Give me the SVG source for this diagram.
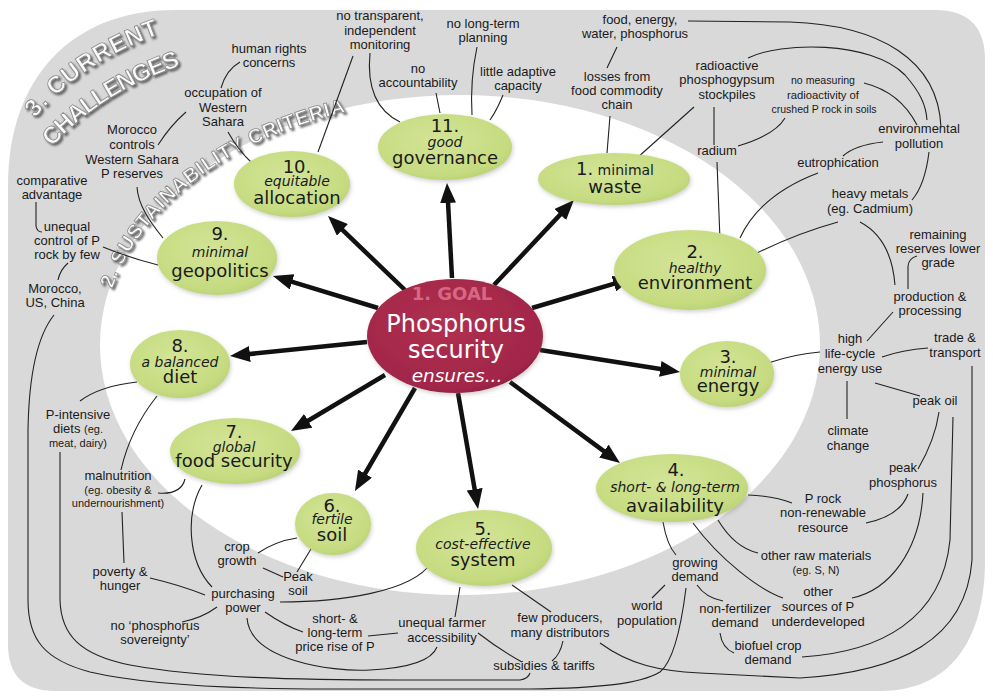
<svg xmlns="http://www.w3.org/2000/svg" width="993" height="697" viewBox="0 0 993 697">
<defs>
<style>
.lb{font-family:"Liberation Sans",Arial,sans-serif;font-size:13px;fill:#1a1a1a;text-anchor:middle}
.sm{font-size:11px}
.nd{fill:url(#gr)}
.nt{font-family:"DejaVu Sans",Verdana,sans-serif;fill:#1a1a1a;text-anchor:middle}
.num{font-size:18px}
.it{font-size:14px;font-style:italic}
.big{font-size:18px}
.c{fill:none;stroke:#222;stroke-width:1.1}
.ar{fill:none;stroke:#111;stroke-width:4.5;marker-end:url(#ah)}
.emb{font-family:"Liberation Sans",Arial,sans-serif;font-weight:bold;fill:#fbfbfb;stroke:#8a8a8a;stroke-width:0.8;filter:url(#sh)}
</style>
<radialGradient id="gr" cx="0.45" cy="0.4" r="0.65">
<stop offset="0" stop-color="#d3e497"/>
<stop offset="0.8" stop-color="#c6db80"/>
<stop offset="1" stop-color="#b8cf72"/>
</radialGradient>
<radialGradient id="rg" cx="0.45" cy="0.4" r="0.65">
<stop offset="0" stop-color="#b0304f"/>
<stop offset="0.85" stop-color="#a2264a"/>
<stop offset="1" stop-color="#8e1f40"/>
</radialGradient>
<filter id="sh" x="-10%" y="-10%" width="130%" height="130%">
<feDropShadow dx="2" dy="2" stdDeviation="1.2" flood-color="#444" flood-opacity="0.8"/>
</filter>
<filter id="nsh" x="-10%" y="-10%" width="130%" height="130%">
<feDropShadow dx="1" dy="2" stdDeviation="2" flood-color="#777" flood-opacity="0.35"/>
</filter>
<marker id="ah" markerWidth="20" markerHeight="16" refX="5" refY="8" orient="auto" markerUnits="userSpaceOnUse">
<path d="M0,0 L20,8 L0,16 z" fill="#111"/>
</marker>
<path id="p3a" d="M 35 118 Q 85 58 172 30"/>
<path id="p3b" d="M 52 147 Q 105 88 192 62"/>
<path id="p2" d="M 108 303 A 356 246 0 0 1 399 103"/>
</defs>

<g id="background">
<path d="M 8 185 C 8 80 70 10 175 10 L 935 10 Q 985 10 985 60 L 985 560 C 985 640 950 691 880 691 L 55 691 Q 8 691 8 644 Z" fill="#d9d9d9"/>
<ellipse cx="460" cy="345" rx="360" ry="250" fill="#ffffff"/>
<text class="emb" font-size="24"><textPath href="#p3a" textLength="152">3. CURRENT</textPath></text>
<text class="emb" font-size="24"><textPath href="#p3b" textLength="154">CHALLENGES</textPath></text>
<text class="emb" font-size="20"><textPath href="#p2" startOffset="15" textLength="305">2. SUSTAINABILITY CRITERIA</textPath></text>
</g>

<g id="connectors">
<path class="c" d="M 240 62 Q 226 70 221 88"/>
<path class="c" d="M 186 112 Q 170 126 158 145"/>
<path class="c" d="M 228 132 Q 238 150 252 163"/>
<path class="c" d="M 137 187 C 138 205 150 222 163 238"/>
<path class="c" d="M 36 202 L 36 226 Q 37 232 42 232"/>
<path class="c" d="M 103 247 Q 130 258 158 265"/>
<path class="c" d="M 68 263 Q 60 270 58 280"/>
<path class="c" d="M 54 315 C 38 335 29 370 28 430 L 28 600 C 28 640 45 660 90 672 C 150 686 250 689 330 689 L 530 689 C 600 688 640 684 660 672 C 675 660 682 620 686 588"/>
<path class="c" d="M 60 452 L 60 600 C 61 635 80 655 130 665 C 200 678 300 680 400 680 L 520 680 Q 528 679 530 673"/>
<path class="c" d="M 137 382 Q 100 386 80 401"/>
<path class="c" d="M 157 396 Q 130 430 121 470"/>
<path class="c" d="M 158 493 Q 181 495 185 479"/>
<path class="c" d="M 122 512 L 124 563"/>
<path class="c" d="M 150 578 Q 180 585 205 595"/>
<path class="c" d="M 182 622 Q 202 618 217 607"/>
<path class="c" d="M 202 485 C 185 515 188 562 212 587"/>
<path class="c" d="M 258 553 Q 276 541 297 538"/>
<path class="c" d="M 263 568 L 283 577"/>
<path class="c" d="M 297 572 L 311 549"/>
<path class="c" d="M 280 602 C 340 602 412 592 431 563"/>
<path class="c" d="M 265 612 Q 285 626 303 632"/>
<path class="c" d="M 247 618 C 250 660 330 672 370 670 C 410 668 432 660 437 647"/>
<path class="c" d="M 368 636 L 398 633"/>
<path class="c" d="M 455 617 L 460 587"/>
<path class="c" d="M 512 585 L 551 612"/>
<path class="c" d="M 478 633 Q 500 650 522 662"/>
<path class="c" d="M 563 641 Q 560 655 552 661"/>
<path class="c" d="M 600 643 C 630 665 660 671 700 673 L 800 678 C 900 672 966 640 972 560 L 972 366"/>
<path class="c" d="M 802 657 C 880 652 942 620 950 540 L 953 417"/>
<path class="c" d="M 923 493 C 920 550 890 590 852 598"/>
<path class="c" d="M 939 412 Q 935 440 918 469"/>
<path class="c" d="M 908 494 Q 900 516 866 523"/>
<path class="c" d="M 748 495 Q 775 496 792 503"/>
<path class="c" d="M 718 520 C 730 540 745 550 758 553"/>
<path class="c" d="M 693 523 C 720 560 760 590 783 598"/>
<path class="c" d="M 663 522 Q 667 545 676 555"/>
<path class="c" d="M 697 585 Q 706 598 723 601"/>
<path class="c" d="M 720 633 Q 722 648 734 653"/>
<path class="c" d="M 665 585 L 652 598"/>
<path class="c" d="M 875 383 L 920 396"/>
<path class="c" d="M 847 381 L 847 419"/>
<path class="c" d="M 867 341 L 893 312"/>
<path class="c" d="M 882 357 Q 902 350 928 348"/>
<path class="c" d="M 768 363 Q 795 354 820 352"/>
<path class="c" d="M 908 289 L 908 266 Q 909 258 917 256"/>
<path class="c" d="M 860 222 C 885 235 893 260 895 285"/>
<path class="c" d="M 838 222 Q 798 233 757 253"/>
<path class="c" d="M 818 173 Q 760 195 740 238"/>
<path class="c" d="M 883 142 Q 855 145 843 156"/>
<path class="c" d="M 929 152 Q 925 185 912 200"/>
<path class="c" d="M 717 162 L 720 240"/>
<path class="c" d="M 714 107 L 714 145"/>
<path class="c" d="M 738 146 Q 775 135 785 118"/>
<path class="c" d="M 864 83 Q 900 92 917 125"/>
<path class="c" d="M 748 58 C 780 42 870 40 905 75 C 920 92 926 105 927 120"/>
<path class="c" d="M 688 21 L 790 22 C 880 25 938 60 941 127"/>
<path class="c" d="M 607 68 L 617 47"/>
<path class="c" d="M 610 116 L 607 153"/>
<path class="c" d="M 694 107 L 637 158"/>
<path class="c" d="M 503 95 Q 497 110 490 120"/>
<path class="c" d="M 477 47 Q 470 80 472 115"/>
<path class="c" d="M 436 93 L 440 113"/>
<path class="c" d="M 370 53 Q 365 105 400 122"/>
<path class="c" d="M 353 56 L 318 152"/>
<path class="ar" d="M 452 278 L 447.8 198"/>
<path class="ar" d="M 494 285 L 563.7 210.9"/>
<path class="ar" d="M 532 308 L 618.6 282.3"/>
<path class="ar" d="M 540 350 L 665.2 369.7"/>
<path class="ar" d="M 510 382 L 607.9 454.1"/>
<path class="ar" d="M 458 393 L 475.5 494.2"/>
<path class="ar" d="M 415 388 L 362.5 478"/>
<path class="ar" d="M 385 375 L 303.9 423.3"/>
<path class="ar" d="M 367 342 L 244.9 354.5"/>
<path class="ar" d="M 378 308 L 287.3 280.4"/>
<path class="ar" d="M 405 290 L 338.8 226.4"/>
</g>

<g id="goal">
<ellipse cx="455" cy="336" rx="88" ry="57" fill="url(#rg)" filter="url(#nsh)"/>
<text x="452" y="300" font-family="DejaVu Sans,Verdana,sans-serif" font-weight="bold" font-size="18" fill="#d66883" text-anchor="middle">1. GOAL</text>
<text x="456" y="332" font-family="DejaVu Sans,Verdana,sans-serif" font-size="24" fill="#fff" text-anchor="middle">Phosphorus<tspan x="456" y="358">security</tspan></text>
<text x="457" y="382" font-family="DejaVu Sans,Verdana,sans-serif" font-size="18.5" font-style="italic" fill="#fff" text-anchor="middle">ensures...</text>
</g>

<g id="n1"><ellipse class="nd" cx="614" cy="179" rx="76" ry="26" filter="url(#nsh)"/>
<text class="nt" x="615" y="175"><tspan font-size="18">1.</tspan><tspan font-size="14"> minimal</tspan><tspan class="big" x="615" y="193">waste</tspan></text></g>
<g id="n2"><ellipse class="nd" cx="690" cy="270" rx="76" ry="40" filter="url(#nsh)"/>
<text class="nt" x="695" y="258"><tspan class="num">2.</tspan><tspan class="it" x="695" y="273">healthy</tspan><tspan class="big" x="695" y="289">environment</tspan></text></g>
<g id="n3"><ellipse class="nd" cx="727" cy="374" rx="47" ry="33" filter="url(#nsh)"/>
<text class="nt" x="728" y="363"><tspan class="num">3.</tspan><tspan class="it" x="728" y="377">minimal</tspan><tspan class="big" x="728" y="392">energy</tspan></text></g>
<g id="n4"><ellipse class="nd" cx="672" cy="488" rx="76" ry="34" filter="url(#nsh)"/>
<text class="nt" x="676" y="476"><tspan class="num">4.</tspan><tspan class="it" x="675" y="492" font-size="13.5">short- &amp; long-term</tspan><tspan class="big" x="675" y="512">availability</tspan></text></g>
<g id="n5"><ellipse class="nd" cx="484" cy="548" rx="68" ry="38" filter="url(#nsh)"/>
<text class="nt" x="483" y="535"><tspan class="num">5.</tspan><tspan class="it" x="483" y="549">cost-effective</tspan><tspan class="big" x="483" y="566">system</tspan></text></g>
<g id="n6"><ellipse class="nd" cx="333" cy="524" rx="38" ry="31" filter="url(#nsh)"/>
<text class="nt" x="332" y="512"><tspan class="num">6.</tspan><tspan class="it" x="332" y="524">fertile</tspan><tspan class="big" x="332" y="541">soil</tspan></text></g>
<g id="n7"><ellipse class="nd" cx="235" cy="451" rx="65" ry="33" filter="url(#nsh)"/>
<text class="nt" x="234" y="438"><tspan class="num">7.</tspan><tspan class="it" x="234" y="452">global</tspan><tspan class="big" x="234" y="467">food security</tspan></text></g>
<g id="n8"><ellipse class="nd" cx="180" cy="364" rx="50" ry="34" filter="url(#nsh)"/>
<text class="nt" x="180" y="352"><tspan class="num">8.</tspan><tspan class="it" x="180" y="367">a balanced</tspan><tspan class="big" x="180" y="383">diet</tspan></text></g>
<g id="n9"><ellipse class="nd" cx="217" cy="258" rx="60" ry="37" filter="url(#nsh)"/>
<text class="nt" x="220" y="240"><tspan class="num">9.</tspan><tspan class="it" x="220" y="257">minimal</tspan><tspan class="big" x="220" y="277">geopolitics</tspan></text></g>
<g id="n10"><ellipse class="nd" cx="292" cy="184" rx="58" ry="33" filter="url(#nsh)"/>
<text class="nt" x="297" y="173"><tspan class="num">10.</tspan><tspan class="it" x="297" y="186">equitable</tspan><tspan class="big" x="297" y="204">allocation</tspan></text></g>
<g id="n11"><ellipse class="nd" cx="445" cy="147" rx="67" ry="33" filter="url(#nsh)"/>
<text class="nt" x="445" y="132"><tspan class="num">11.</tspan><tspan class="it" x="445" y="147">good</tspan><tspan class="big" x="445" y="164">governance</tspan></text></g>

<g id="l-human"><text class="lb" x="269" y="53">human rights<tspan x="269" y="67">concerns</tspan></text></g>
<g id="l-occupation"><text class="lb" x="223" y="97">occupation of<tspan x="223" y="112">Western</tspan><tspan x="223" y="126">Sahara</tspan></text></g>
<g id="l-morocco"><text class="lb" x="132" y="134">Morocco<tspan x="132" y="149">controls</tspan><tspan x="132" y="164">Western Sahara</tspan><tspan x="132" y="178">P reserves</tspan></text></g>
<g id="l-comparative"><text class="lb" x="52" y="185">comparative<tspan x="52" y="199">advantage</tspan></text></g>
<g id="l-unequal"><text class="lb" x="67" y="231">unequal<tspan x="67" y="245">control of P</tspan><tspan x="67" y="259">rock by few</tspan></text></g>
<g id="l-musc"><text class="lb" x="55" y="293">Morocco,<tspan x="55" y="307">US, China</tspan></text></g>
<g id="l-pintensive"><text class="lb" x="78" y="419">P-intensive<tspan x="78" y="433">diets <tspan class="sm">(eg.</tspan></tspan><tspan class="sm" x="78" y="447">meat, dairy)</tspan></text></g>
<g id="l-malnutrition"><text class="lb" x="118" y="480">malnutrition<tspan class="sm" x="118" y="494">(eg. obesity &amp;</tspan><tspan class="sm" x="118" y="507">undernourishment)</tspan></text></g>
<g id="l-poverty"><text class="lb" x="120" y="576">poverty &amp;<tspan x="120" y="590">hunger</tspan></text></g>
<g id="l-sovereignty"><text class="lb" x="155" y="630">no ‘phosphorus<tspan x="155" y="644">sovereignty’</tspan></text></g>
<g id="l-crop"><text class="lb" x="237" y="551">crop<tspan x="237" y="565">growth</tspan></text></g>
<g id="l-peaksoil"><text class="lb" x="298" y="581">Peak<tspan x="298" y="595">soil</tspan></text></g>
<g id="l-purchasing"><text class="lb" x="243" y="598">purchasing<tspan x="243" y="612">power</tspan></text></g>
<g id="l-price"><text class="lb" x="335" y="623">short- &amp;<tspan x="335" y="637">long-term</tspan><tspan x="335" y="651">price rise of P</tspan></text></g>
<g id="l-farmer"><text class="lb" x="442" y="627">unequal farmer<tspan x="442" y="642">accessibility</tspan></text></g>
<g id="l-producers"><text class="lb" x="560" y="622">few producers,<tspan x="560" y="637">many distributors</tspan></text></g>
<g id="l-subsidies"><text class="lb" x="544" y="670">subsidies &amp; tariffs</text></g>
<g id="l-world"><text class="lb" x="647" y="610">world<tspan x="647" y="625">population</tspan></text></g>
<g id="l-growing"><text class="lb" x="695" y="567">growing<tspan x="695" y="581">demand</tspan></text></g>
<g id="l-nonfert"><text class="lb" x="735" y="613">non-fertilizer<tspan x="735" y="627">demand</tspan></text></g>
<g id="l-biofuel"><text class="lb" x="768" y="650">biofuel crop<tspan x="768" y="664">demand</tspan></text></g>
<g id="l-othersources"><text class="lb" x="818" y="596">other<tspan x="818" y="611">sources of P</tspan><tspan x="818" y="626">underdeveloped</tspan></text></g>
<g id="l-raw"><text class="lb" x="816" y="560">other raw materials<tspan class="sm" x="816" y="574">(eg. S, N)</tspan></text></g>
<g id="l-prock"><text class="lb" x="823" y="503">P rock<tspan x="823" y="517">non-renewable</tspan><tspan x="823" y="532">resource</tspan></text></g>
<g id="l-peakp"><text class="lb" x="903" y="472">peak<tspan x="903" y="487">phosphorus</tspan></text></g>
<g id="l-peakoil"><text class="lb" x="935" y="405">peak oil</text></g>
<g id="l-climate"><text class="lb" x="848" y="435">climate<tspan x="848" y="450">change</tspan></text></g>
<g id="l-energyuse"><text class="lb" x="850" y="343">high<tspan x="850" y="358">life-cycle</tspan><tspan x="850" y="373">energy use</tspan></text></g>
<g id="l-trade"><text class="lb" x="955" y="342">trade &amp;<tspan x="955" y="357">transport</tspan></text></g>
<g id="l-production"><text class="lb" x="930" y="301">production &amp;<tspan x="930" y="315">processing</tspan></text></g>
<g id="l-reserves"><text class="lb" x="938" y="239">remaining<tspan x="938" y="253">reserves lower</tspan><tspan x="938" y="267">grade</tspan></text></g>
<g id="l-heavy"><text class="lb" x="870" y="198">heavy metals<tspan x="870" y="213">(eg. Cadmium)</tspan></text></g>
<g id="l-eutro"><text class="lb" x="838" y="167">eutrophication</text></g>
<g id="l-envpol"><text class="lb" x="919" y="133">environmental<tspan x="919" y="148">pollution</tspan></text></g>
<g id="l-radium"><text class="lb" x="717" y="155">radium</text></g>
<g id="l-nomeasuring"><text class="lb sm" x="823" y="84" textLength="64" lengthAdjust="spacingAndGlyphs">no measuring</text><text class="lb sm" x="823" y="99" textLength="72" lengthAdjust="spacingAndGlyphs">radioactivity of</text><text class="lb sm" x="824" y="113" textLength="105" lengthAdjust="spacingAndGlyphs">crushed P rock in soils</text></g>
<g id="l-radioactive"><text class="lb" x="727" y="70">radioactive<tspan x="727" y="84">phosphogypsum</tspan><tspan x="727" y="99">stockpiles</tspan></text></g>
<g id="l-losses"><text class="lb" x="617" y="81">losses from<tspan x="617" y="95">food commodity</tspan><tspan x="617" y="109">chain</tspan></text></g>
<g id="l-food"><text class="lb" x="640" y="24">food, energy,<tspan x="635" y="38">water, phosphorus</tspan></text></g>
<g id="l-longterm"><text class="lb" x="483" y="28">no long-term<tspan x="483" y="42">planning</tspan></text></g>
<g id="l-adaptive"><text class="lb" x="518" y="76">little adaptive<tspan x="518" y="90">capacity</tspan></text></g>
<g id="l-account"><text class="lb" x="418" y="73">no<tspan x="418" y="87">accountability</tspan></text></g>
<g id="l-transparent"><text class="lb" x="380" y="20">no transparent,<tspan x="380" y="35">independent</tspan><tspan x="380" y="49">monitoring</tspan></text></g>
</svg>
